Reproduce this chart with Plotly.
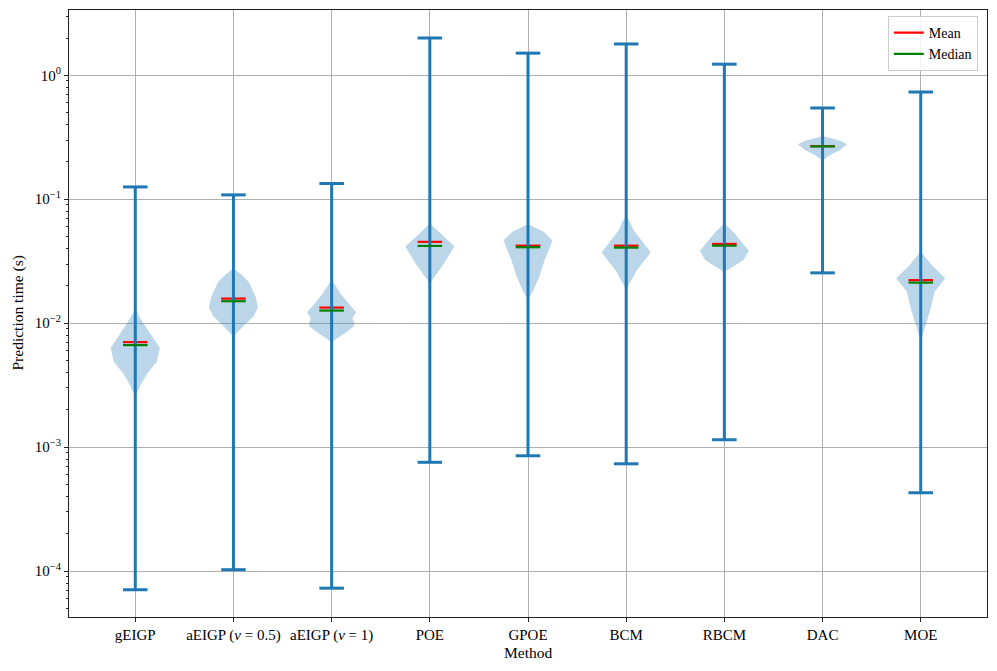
import plotly.graph_objects as go

methods = ["gEIGP", "aEIGP (<i>ν</i> = 0.5)", "aEIGP (<i>ν</i> = 1)", "POE", "GPOE",
           "BCM", "RBCM", "DAC", "MOE"]

# extrema / mean / median (seconds)
v_min = [7.06e-5, 1.025e-4, 7.27e-5, 7.54e-4, 8.51e-4, 7.33e-4, 1.146e-3, 0.02546, 4.28e-4]
v_max = [0.1257, 0.1084, 0.134, 2.0, 1.51, 1.79, 1.23, 0.545, 0.733]
v_mean = [0.00703, 0.01579, 0.01336, 0.0453, 0.0422, 0.0422, 0.0436, 0.268, 0.02223]
v_median = [0.00665, 0.01504, 0.01264, 0.0420, 0.0410, 0.0407, 0.0422, 0.267, 0.02124]

# violin density profiles: y values (s) and relative density (0..1)
dens_y = [
    [0.0133, 0.0117, 0.0100, 0.00775, 0.00632, 0.00488, 0.00397, 0.00318, 0.00254],
    [0.0278, 0.02455, 0.0216, 0.0164, 0.01336, 0.0113, 0.00981, 0.00855, 0.0078],
    [0.02234, 0.0169, 0.01405, 0.01227, 0.01097, 0.0100, 0.00939, 0.0083, 0.00733, 0.00693],
    [0.0640, 0.0515, 0.0415, 0.0295, 0.02103],
    [0.0632, 0.0545, 0.0464, 0.0324, 0.02377, 0.01857, 0.01543],
    [0.0707, 0.0681, 0.0565, 0.0371, 0.0269, 0.01857],
    [0.0640, 0.0532, 0.0383, 0.0324, 0.0286, 0.02592],
    [0.3239, 0.3104, 0.2970, 0.2778, 0.2500, 0.2277, 0.2048],
    [0.0378, 0.0334, 0.0295, 0.02306, 0.01798, 0.01241, 0.00912, 0.00711],
]
dens_w = [
    [0, 0.12, 0.33, 0.7, 1.0, 0.88, 0.5, 0.22, 0],
    [0, 0.33, 0.62, 0.9, 1.0, 0.82, 0.48, 0.2, 0],
    [0, 0.41, 0.73, 1.0, 0.84, 0.93, 0.9, 0.54, 0.12, 0],
    [0, 0.48, 1.0, 0.54, 0],
    [0, 0.65, 1.0, 0.68, 0.46, 0.23, 0],
    [0, 0.12, 0.3, 1.0, 0.44, 0],
    [0, 0.41, 1.0, 0.78, 0.37, 0],
    [0, 0.31, 0.72, 1.0, 0.72, 0.31, 0],
    [0, 0.22, 0.45, 1.0, 0.57, 0.37, 0.16, 0],
]

ytick_vals = [1e-4, 1e-3, 1e-2, 1e-1, 1e0]
ytick_text = ["10<sup>−4</sup>", "10<sup>−3</sup>", "10<sup>−2</sup>", "10<sup>−1</sup>", "10<sup>0</sup>"]

x_title = "Method"
y_title = "Prediction time (s)"

BLUE = "#1f77b4"
HALF = 0.25   # half violin width
CAP = 0.125   # half cap width
FONT = "Liberation Serif, DejaVu Serif, serif"

positions = list(range(1, len(methods) + 1))
fig = go.Figure()

# violin bodies
for p, ys, ws in zip(positions, dens_y, dens_w):
    xs = [p + HALF * w for w in ws] + [p - HALF * w for w in reversed(ws)]
    yy = ys + list(reversed(ys))
    fig.add_trace(go.Scatter(x=xs, y=yy, mode="lines", fill="toself",
                             fillcolor="rgba(31,119,180,0.3)", line=dict(width=0),
                             showlegend=False, hoverinfo="skip"))

def hsegs(vals):
    xs, ys = [], []
    for p, v in zip(positions, vals):
        xs += [p - CAP, p + CAP, None]
        ys += [v, v, None]
    return xs, ys

# means
mx, my = hsegs(v_mean)
fig.add_trace(go.Scatter(x=mx, y=my, mode="lines", line=dict(color="red", width=2.2),
                         name="Mean", showlegend=True))

# extrema bars + caps
bx, by = [], []
for p, lo, hi in zip(positions, v_min, v_max):
    bx += [p, p, None, p - CAP, p + CAP, None, p - CAP, p + CAP, None]
    by += [lo, hi, None, lo, lo, None, hi, hi, None]
fig.add_trace(go.Scatter(x=bx, y=by, mode="lines", line=dict(color=BLUE, width=3),
                         showlegend=False, hoverinfo="skip"))

# medians
dx, dy = hsegs(v_median)
fig.add_trace(go.Scatter(x=dx, y=dy, mode="lines", line=dict(color="green", width=2.2),
                         name="Median", showlegend=True))

minor_vals = [m * 10 ** e for e in range(-5, 1) for m in range(2, 10)]

fig.update_layout(
    width=989, height=654,
    margin=dict(l=61, r=10, t=2, b=45, autoexpand=False),
    paper_bgcolor="white", plot_bgcolor="white",
    font=dict(family=FONT, size=13, color="black"),
    legend=dict(x=0.99, y=0.99, xanchor="right", yanchor="top",
                bgcolor="rgba(255,255,255,0.85)", bordercolor="#cccccc", borderwidth=1,
                font=dict(size=14, family=FONT), itemwidth=30, tracegroupgap=0),
    xaxis=dict(
        range=[0.325, 9.675], tickmode="array", tickvals=positions, ticktext=methods,
        showgrid=True, gridcolor="#b0b0b0", gridwidth=0.8,
        showline=True, linecolor="#222222", linewidth=1.2, mirror=True,
        ticks="outside", ticklen=4, tickwidth=1, tickcolor="#222222",
        zeroline=False, automargin=False, tickfont=dict(size=15),
    ),
    yaxis=dict(
        type="log", range=[-4.371, 0.527], tickmode="array",
        tickvals=ytick_vals, ticktext=ytick_text,
        showgrid=True, gridcolor="#b0b0b0", gridwidth=0.8,
        showline=True, linecolor="#222222", linewidth=1.2, mirror=True,
        ticks="outside", ticklen=4, tickwidth=1, tickcolor="#222222",
        minor=dict(tickmode="array", tickvals=minor_vals, ticks="outside",
                   ticklen=2, tickwidth=0.8, tickcolor="#222222", showgrid=False),
        zeroline=False, automargin=False, tickfont=dict(size=15),
    ),
    annotations=[
        dict(text=x_title, xref="paper", yref="paper", x=0.5, y=0, yshift=-35,
             xanchor="center", yanchor="middle", showarrow=False,
             font=dict(size=15.5, family=FONT)),
        dict(text=y_title, xref="paper", yref="paper", x=0, y=0.5, xshift=-52,
             xanchor="center", yanchor="middle", textangle=-90, showarrow=False,
             font=dict(size=15.5, family=FONT)),
    ],
)

fig.write_html("out.html")
